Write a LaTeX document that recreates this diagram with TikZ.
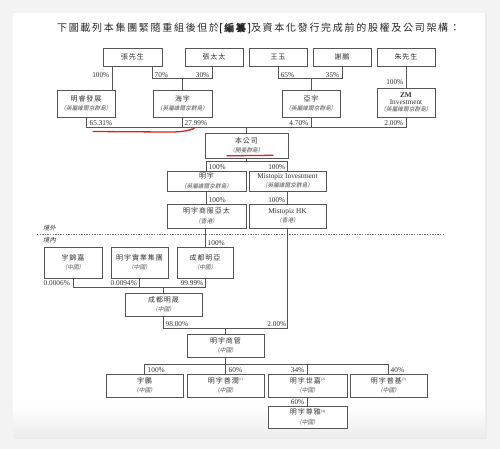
\documentclass[tikz,border=0pt]{standalone}
\usepackage{fontspec}
\setmainfont{Liberation Serif}
\newfontfamily\cjkt[LetterSpace=17]{Noto Sans CJK TC}
\newfontfamily\cjktb[LetterSpace=17,FakeBold=1.5]{Noto Sans CJK TC}
\newfontfamily\cjkn[LetterSpace=14]{Noto Sans CJK TC}
\newfontfamily\cjksl[FakeSlant=0.2]{Noto Sans CJK TC}
\usetikzlibrary{calc}
\definecolor{linec}{HTML}{555555}
\definecolor{txt}{HTML}{333333}
\definecolor{bgc}{HTML}{F3F3F3}
\definecolor{redl}{HTML}{E0201C}
\newcommand{\bxname}[1]{{\cjkn\fontsize{7}{8}\selectfont #1}}
\newcommand{\bxsub}[1]{{\cjksl\fontsize{5.7}{6.5}\selectfont\color{txt!85}（#1）}}
\newcommand{\bxlat}[1]{{\fontsize{7.3}{8}\selectfont #1}}
\newcommand{\noteref}[1]{{\fontsize{3.5}{4}\selectfont\raisebox{2.6pt}{(#1)}}}
\tikzset{
  box/.style={draw=linec, line width=0.7pt, fill=white, inner sep=0pt, align=center,
    text=txt, font=\fontsize{6}{9.5}\selectfont},
  pct/.style={inner sep=0.5pt, text=txt, font=\fontsize{7.3}{8}\selectfont},
  conn/.style={draw=linec, line width=0.8pt},
  redmark/.style={draw=redl, line width=1.3pt, line cap=round},
}
\begin{document}
\begin{tikzpicture}[x=1pt,y=-1pt]
\useasboundingbox (0,0) rectangle (500,449);
\fill[bgc] (0,0) rectangle (500,449);
\fill[black!8] (14,14) rectangle (487,439);
\fill[white] (13,13) rectangle (485,436);
\shade[top color=white, bottom color=black!7] (13,405) rectangle (485,436);

% title
\node[text=black!85, inner sep=0pt] (title) at (258.5,28)
  {\fontsize{10}{11}\selectfont\cjkt 下圖載列本集團緊隨重組後但於{\cjktb[編纂]}及資本化發行完成前的股權及公司架構：};

% row 1
\node[box, minimum width=59pt, minimum height=18pt] (zhang) at (132.5,57) {\bxname{張先生}};
\node[box, minimum width=58pt, minimum height=18pt] (zhangtt) at (214,57) {\bxname{張太太}};
\node[box, minimum width=58pt, minimum height=18pt] (wangyu) at (278,57) {\bxname{王玉}};
\node[box, minimum width=58pt, minimum height=18pt] (xiepeng) at (342,57) {\bxname{謝鵬}};
\node[box, minimum width=58pt, minimum height=18pt] (zhu) at (406,57) {\bxname{朱先生}};

% row 2
\node[box, minimum width=58pt, minimum height=27pt] (mingrui) at (86,103.5) {\bxname{明睿發展}\\\bxsub{英屬維爾京群島}};
\node[box, minimum width=59pt, minimum height=27pt] (haiyu) at (182.5,103.5) {\bxname{海宇}\\\bxsub{英屬維爾京群島}};
\node[box, minimum width=58pt, minimum height=27pt] (yayu) at (311,103.5) {\bxname{亞宇}\\\bxsub{英屬維爾京群島}};
\node[box, minimum width=58pt, minimum height=29pt] (zm) at (406,102.5) {\bxlat{\textbf{ZM}}\\[-2.6pt]\bxlat{Investment}\\[-2.6pt]\bxsub{英屬維爾京群島}};

% company
\node[box, minimum width=83pt, minimum height=25pt] (company) at (246.5,145.5) {\bxname{本公司}\\\bxsub{開曼群島}};

% row 3
\node[box, minimum width=79pt, minimum height=20pt] (mingyu) at (206.5,181) {\bxname{明宇}\\\bxsub{英屬維爾京群島}};
\node[box, minimum width=77pt, minimum height=20pt] (mistinv) at (287.5,181) {\bxlat{Mistopiz Investment}\\\bxsub{英屬維爾京群島}};

% row 4
\node[box, minimum width=79pt, minimum height=24pt] (mingyusf) at (206.5,216) {\bxname{明宇商服亞太}\\\bxsub{香港}};
\node[box, minimum width=77pt, minimum height=24pt] (misthk) at (287.5,216) {\bxlat{Mistopiz HK}\\\bxsub{香港}};

% border line
\coordinate (dashL) at (37,234);
\coordinate (dashR) at (445,234);
\draw[black!55, line width=0.7pt, dash pattern=on 1.3pt off 1.3pt] (dashL) -- (dashR);
\node[anchor=west, inner sep=0pt, text=txt] (jingwai) at (43,228.5) {\cjksl\fontsize{6.3}{7}\selectfont 境外};
\node[anchor=west, inner sep=0pt, text=txt] (jingnei) at (43,240) {\cjksl\fontsize{6.3}{7}\selectfont 境內};

% row 5
\node[box, minimum width=58pt, minimum height=31pt] (yujinjia) at (73,262.5) {\bxname{宇錦嘉}\\\bxsub{中國}};
\node[box, minimum width=57pt, minimum height=31pt] (mingyusy) at (139.5,262.5) {\bxname{明宇實業集團}\\\bxsub{中國}};
\node[box, minimum width=56pt, minimum height=31pt] (cdmy) at (205,262.5) {\bxname{成都明亞}\\\bxsub{中國}};

% row 6
\node[box, minimum width=77pt, minimum height=23pt] (cdms) at (163.5,304.5) {\bxname{成都明晟}\\\bxsub{中國}};
\node[box, minimum width=77pt, minimum height=23pt] (mysg) at (225.5,345.5) {\bxname{明宇商管}\\\bxsub{中國}};

% row 7
\node[box, minimum width=77pt, minimum height=23pt] (yupeng) at (144.5,385.5) {\bxname{宇鵬}\\\bxsub{中國}};
\node[box, minimum width=77pt, minimum height=23pt] (shanrun) at (225.5,385.5) {\bxname{明宇善潤}\noteref{1}\\\bxsub{中國}};
\node[box, minimum width=79pt, minimum height=23pt] (shijia) at (307.5,385.5) {\bxname{明宇世嘉}\noteref{2}\\\bxsub{中國}};
\node[box, minimum width=77pt, minimum height=23pt] (puji) at (388.5,385.5) {\bxname{明宇普基}\noteref{3}\\\bxsub{中國}};
\node[box, minimum width=79pt, minimum height=22pt] (zunya) at (307.5,417) {\bxname{明宇尊雅}\noteref{4}\\\bxsub{中國}};

% bar coordinates
\coordinate (barA) at (0,78);
\coordinate (barB) at (0,127);
\coordinate (barC) at (0,161);
\coordinate (barD) at (0,287);
\coordinate (barE) at (0,328);
\coordinate (barF) at (0,364);

% connectors top
\draw[conn] ([xshift=-3pt]mingrui.north east |- zhang.south) -- ([xshift=-3pt]mingrui.north east);
\draw[conn] (haiyu.north west |- zhang.south) -- (haiyu.north west |- barA) -- (haiyu.north east |- barA) -- (haiyu.north east |- zhangtt.south);
\draw[conn] (haiyu.north) -- (haiyu.north |- barA);
\draw[conn] (wangyu.south) -- (wangyu.south |- barA) -- (xiepeng.south |- barA) -- (xiepeng.south);
\draw[conn] (yayu.north) -- (yayu.north |- barA);
\draw[conn] (zhu.south) -- (zm.north);

\draw[conn] (mingrui.south) -- (mingrui.south |- barB) -- (zm.south |- barB) -- (zm.south);
\draw[conn] (haiyu.south) -- (haiyu.south |- barB);
\draw[conn] (yayu.south) -- (yayu.south |- barB);
\draw[conn] (company.north) -- (company.north |- barB);

\draw[conn] (company.south) -- (company.south |- barC);
\draw[conn] (mingyu.north) -- (mingyu.north |- barC) -- (mistinv.north |- barC) -- (mistinv.north);
\draw[conn] (mingyu.south) -- (mingyusf.north);
\draw[conn] (mistinv.south) -- (misthk.north);

\draw[conn] (cdmy.north |- mingyusf.south) -- (cdmy.north);
\draw[conn] (yujinjia.south) -- (yujinjia.south |- barD) -- (cdmy.south |- barD) -- (cdmy.south);
\draw[conn] (mingyusy.south) -- (mingyusy.south |- barD);
\draw[conn] (cdms.north) -- (cdms.north |- barD);

\draw[conn] (cdms.south) -- (cdms.south |- barE) -- (misthk.south |- barE) -- (misthk.south);
\draw[conn] (mysg.north) -- (mysg.north |- barE);

\draw[conn] (mysg.south) -- (mysg.south |- barF);
\draw[conn] (yupeng.north) -- (yupeng.north |- barF) -- (puji.north |- barF) -- (puji.north);
\draw[conn] (shanrun.north) -- (shanrun.north |- barF);
\draw[conn] (shijia.north) -- (shijia.north |- barF);
\draw[conn] (shijia.south) -- (zunya.north);

% percentages
\node[pct, anchor=east] (p1) at (110,75) {100\%};
\node[pct, anchor=west] (p2) at (154,75) {70\%};
\node[pct, anchor=east] (p3) at (210,75) {30\%};
\node[pct, anchor=west] (p4) at (280,75) {65\%};
\node[pct, anchor=east] (p5) at (340,75) {35\%};
\node[pct, anchor=east] (p6) at (404,82) {100\%};
\node[pct, anchor=west] (p7) at (89,123) {65.31\%};
\node[pct, anchor=west] (p8) at (184,123) {27.99\%};
\node[pct, anchor=east] (p9) at (309,123) {4.70\%};
\node[pct, anchor=east] (p10) at (404,123) {2.00\%};
\node[pct, anchor=west] (p11) at (208,167) {100\%};
\node[pct, anchor=east] (p12) at (286,167) {100\%};
\node[pct, anchor=west] (p13) at (208,200) {100\%};
\node[pct, anchor=east] (p14) at (286,200) {100\%};
\node[pct, anchor=west] (p15) at (207,243) {100\%};
\node[pct, anchor=west] (p16) at (43,283) {0.0006\%};
\node[pct, anchor=west] (p17) at (110,283) {0.0094\%};
\node[pct, anchor=east] (p18) at (204,283) {99.99\%};
\node[pct, anchor=west] (p19) at (165,324) {98.00\%};
\node[pct, anchor=east] (p20) at (287,324) {2.00\%};
\node[pct, anchor=west] (p21) at (147,370) {100\%};
\node[pct, anchor=west] (p22) at (228,370) {60\%};
\node[pct, anchor=east] (p23) at (305,370) {34\%};
\node[pct, anchor=west] (p24) at (390,370) {40\%};
\node[pct, anchor=east] (p25) at (305,402) {60\%};

% red hand-drawn underlines
\draw[redmark] (93,131.5) -- (165,132) .. controls (180,132.3) and (188,131) .. (194,128.5);
\draw[redmark] (227,155.8) -- (273,155.3);
\end{tikzpicture}
\end{document}
